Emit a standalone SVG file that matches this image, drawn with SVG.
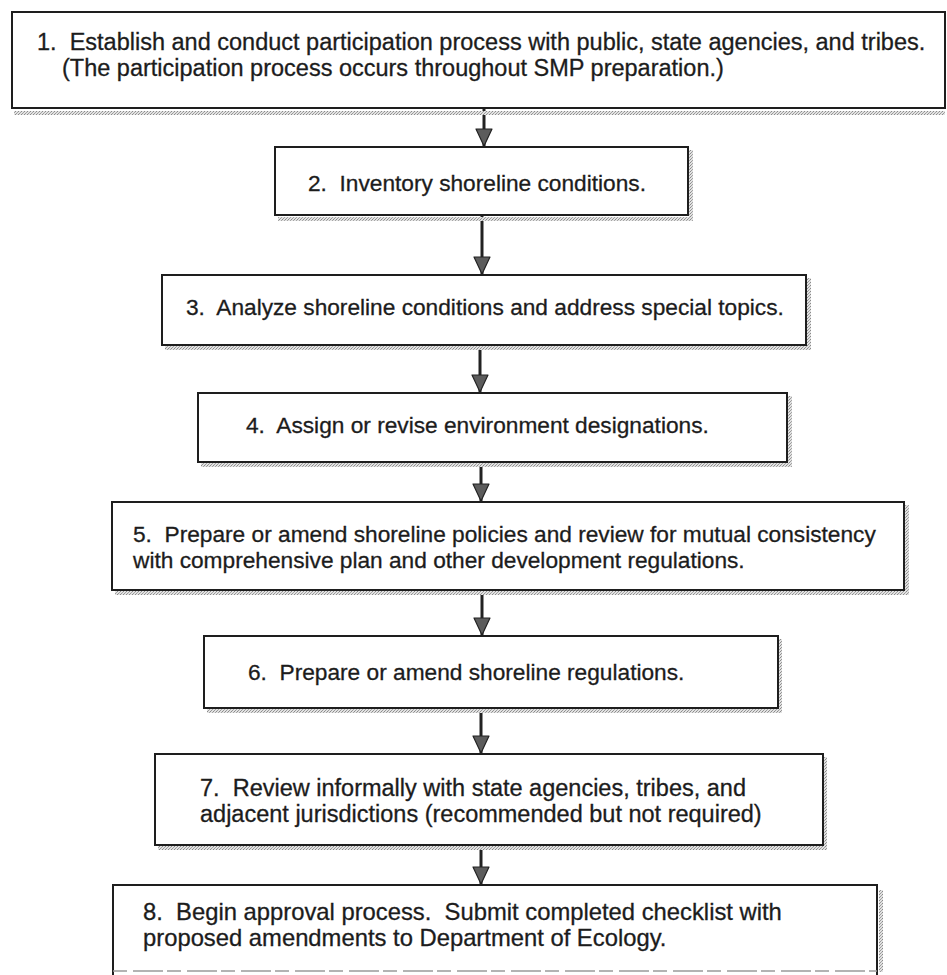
<svg xmlns="http://www.w3.org/2000/svg" width="947" height="975" viewBox="0 0 947 975">
  <style>
    .box { fill: #ffffff; stroke: #1e1e1e; stroke-width: 2; }
    .shade { fill: url(#halftone); }
    .label { font-family: "Liberation Sans", Arial, sans-serif; font-size: 22.7px; fill: #1c1c1c; stroke: #1c1c1c; stroke-width: 0.3; }
    .big { font-size: 23.5px; }
    .large { font-size: 23.8px; }
    .flow { stroke: #222222; stroke-width: 3; fill: none; }
  </style>
  <defs>
    <!-- grey halftone used for the drop shadows -->
    <pattern id="halftone" width="3" height="3" patternUnits="userSpaceOnUse">
      <rect width="3" height="3" fill="#e2e2e2"/>
      <rect x="0" y="0" width="1" height="1" fill="#8a8a8a"/>
      <rect x="2" y="1" width="1" height="1" fill="#a5a5a5"/>
      <rect x="1" y="2" width="1" height="1" fill="#9a9a9a"/>
    </pattern>
    <!-- filled triangular arrowhead, tip at the end of the line -->
    <marker id="head" markerUnits="userSpaceOnUse" markerWidth="19" markerHeight="19" viewBox="0 0 19 19" refX="18" refY="9.5" orient="auto">
      <path d="M1,1.5 L18,9.5 L1,17.5 Z" fill="#5c5c5c" stroke="#222222" stroke-width="1.2" stroke-linejoin="round"/>
    </marker>
  </defs>

  <!-- connectors -->
  <g id="connectors">
    <line class="flow" x1="484" y1="109" x2="484" y2="146" marker-end="url(#head)"/>
    <line class="flow" x1="482" y1="216" x2="482" y2="274" marker-end="url(#head)"/>
    <line class="flow" x1="480" y1="346" x2="480" y2="392" marker-end="url(#head)"/>
    <line class="flow" x1="481" y1="463" x2="481" y2="501" marker-end="url(#head)"/>
    <line class="flow" x1="482" y1="591" x2="482" y2="635" marker-end="url(#head)"/>
    <line class="flow" x1="481" y1="709" x2="481" y2="753" marker-end="url(#head)"/>
    <line class="flow" x1="481" y1="846" x2="481" y2="884" marker-end="url(#head)"/>
  </g>

  <!-- step 1 -->
  <g id="step1">
    <rect class="shade" x="14" y="111" width="931" height="4"/>
    <rect class="box" x="12" y="12" width="933" height="96"/>
    <text class="label big" x="37" y="50" xml:space="preserve">1.  Establish and conduct participation process with public, state agencies, and tribes.</text>
    <text class="label big" x="62" y="76">(The participation process occurs throughout SMP preparation.)</text>
  </g>

  <!-- step 2 -->
  <g id="step2">
    <rect class="shade" x="278" y="217" width="414" height="4"/>
    <rect class="shade" x="689" y="150" width="4" height="71"/>
    <rect class="box" x="275" y="147" width="413" height="68"/>
    <text class="label" x="308" y="191" xml:space="preserve">2.  Inventory shoreline conditions.</text>
  </g>

  <!-- step 3 -->
  <g id="step3">
    <rect class="shade" x="165" y="346" width="646" height="4"/>
    <rect class="shade" x="807" y="278" width="4" height="72"/>
    <rect class="box" x="162" y="275" width="644" height="70"/>
    <text class="label" x="186" y="315" xml:space="preserve">3.  Analyze shoreline conditions and address special topics.</text>
  </g>

  <!-- step 4 -->
  <g id="step4">
    <rect class="shade" x="201" y="463" width="591" height="4"/>
    <rect class="shade" x="788" y="396" width="4" height="71"/>
    <rect class="box" x="198" y="393" width="589" height="69"/>
    <text class="label" x="246" y="433" xml:space="preserve">4.  Assign or revise environment designations.</text>
  </g>

  <!-- step 5 -->
  <g id="step5">
    <rect class="shade" x="115" y="591" width="794" height="4"/>
    <rect class="shade" x="905" y="505" width="4" height="90"/>
    <rect class="box" x="112" y="502" width="792" height="88"/>
    <text class="label" x="133" y="542" xml:space="preserve">5.  Prepare or amend shoreline policies and review for mutual consistency</text>
    <text class="label" x="133" y="568">with comprehensive plan and other development regulations.</text>
  </g>

  <!-- step 6 -->
  <g id="step6">
    <rect class="shade" x="207" y="709" width="575" height="4"/>
    <rect class="shade" x="778" y="639" width="4" height="74"/>
    <rect class="box" x="204" y="636" width="574" height="72"/>
    <text class="label" x="248" y="680" xml:space="preserve">6.  Prepare or amend shoreline regulations.</text>
  </g>

  <!-- step 7 -->
  <g id="step7">
    <rect class="shade" x="158" y="846" width="669" height="4"/>
    <rect class="shade" x="823" y="757" width="4" height="93"/>
    <rect class="box" x="155" y="754" width="668" height="91"/>
    <text class="label big" x="200" y="796" xml:space="preserve">7.  Review informally with state agencies, tribes, and</text>
    <text class="label big" x="200" y="822">adjacent jurisdictions (recommended but not required)</text>
  </g>

  <!-- step 8 -->
  <g id="step8">
    <rect class="shade" x="879" y="890" width="4" height="82"/>
    <path d="M113,975 L113,885 L877,885 L877,975" fill="#ffffff" stroke="#1e1e1e" stroke-width="2"/>
    <line x1="113" y1="971" x2="877" y2="971" stroke="#9a9a9a" stroke-width="1.5" stroke-dasharray="14 6 30 4"/>
    <text class="label large" x="143" y="920" xml:space="preserve">8.  Begin approval process.  Submit completed checklist with</text>
    <text class="label large" x="143" y="946">proposed amendments to Department of Ecology.</text>
  </g>
</svg>
